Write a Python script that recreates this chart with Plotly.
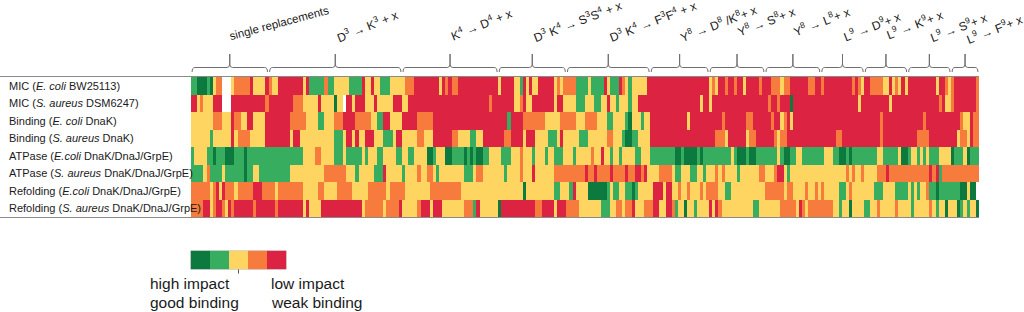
import plotly.graph_objects as go

# ---------------- data ----------------
row_labels = [
    "MIC (<i>E. coli</i> BW25113)",
    "MIC (<i>S. aureus</i> DSM6247)",
    "Binding (<i>E. coli</i> DnaK)",
    "Binding (<i>S. aureus</i> DnaK)",
    "ATPase (<i>E.coli</i> DnaK/DnaJ/GrpE)",
    "ATPase (<i>S. aureus</i> DnaK/DnaJ/GrpE)",
    "Refolding (<i>E.coli</i> DnaK/DnaJ/GrpE)",
    "Refolding (<i>S. aureus</i> DnaK/DnaJ/GrpE)",
]

# impact class per peptide: 1 = high impact/good binding ... 5 = low impact/weak binding, 0 = no data
mic_ecoli = [int(c) for c in (
    "22 111 2 1 3 44 000 3 44444 5 3333 5 4 33 55555555 3 5 22222 4 22 33333 2 "
    "222 5 33 5 33 222 33333 444 55555555 3 5 4 5 44 5555555555555 3 555 "
    "5 33 2 5 3 5 33 55555 3 4 3 4444 2222 3 2222 5 3 222 5 4 3 2 33333 55555555 "
    "555555555555 3 4 3 55 4 55 4 55 3 5555 4 555 444 3 44 555555 44 55 4 555 "
    "555555 4 5 4 3 55 4444 33 5 3 4 3 5 3 555555555 3 55 4 3 4 5555555 4"
) if c.isdigit()]
mic_saureus = [int(c) for c in (
    "55 3 4 333 555 000 55555555555 4 55555555 444 33333 5 3333 1 33 0 55 "
    "3 555 333 5 33333 555 33 5555555555 5555555555 555555 4 555555 "
    "5 33 4 5 33 5555555 3 55 3333 222 333 22 33 5 33 2 333 2 33 55555555555 "
    "555555555 3 55 3 555555555555555555 4 55 4 555 1 5555555555555 "
    "55555555 3 555555555 3 555555555555555 4 5 33 4 5555555 4"
) if c.isdigit()]
bind_ecoli = [int(c) for c in (
    "3333333 444 333 5 44 33 55 3333 55555555 44444 3333 22 333 444 555 "
    "5 44444 33 22 55 3333 55555 44444 555555555555 555555555555 2 "
    "5555 4444444 33333 44444 333 4444 333 22 3333 2 1 333 2 33 5555555 "
    "55555 3 5555555555 4 5555555 44 555555 4 55 3 4 5 3 5555555555555 "
    "555555555555555 4 5555555555555 4 55555555555 4 33 5 44"
) if c.isdigit()]
bind_saureus = [int(c) for c in (
    "333333 2 333333 5 3 4444 33333 55555555 3 55 33333333333 222 3 55 "
    "3 5 33 555 333 222 3 55 33333 44 333 555555 44 3333 22 33 5555555 44 "
    "5555 3 555 3333 222 3 5 33333 222 333333 44 333 2 11 22 3333 5555555 "
    "55555555555555 444 3 555555 3 44 555555 4 3 44 555555555555555 "
    "5 44 555555555555 4 55555555555 4444 555555555 3 44 3 5 44"
) if c.isdigit()]
atp_ecoli = [int(c) for c in (
    "2 3333 22 1 222 111 222 1 22 2222222222222222 3333 44 3333 222 3 22 "
    "222 3 2 333 22 3333 22 33 22 3333 11 2 333 11 2222 1 2 1 2 11 22 3333 222 "
    "333 4 333 2 333 2 33 222 333 2 33333 4 33 5 33 2 33 2 3333 22 333 2222222 "
    "2 11 2 1111 2 1 222222222 3 2 111 2 11 2222222 3 2 11 22 33 2222222 333 "
    "22 11 2 1 22222222 33 22222 3 11 2 33 2 3 2 3 222 3333 1 222 3 1 222"
) if c.isdigit()]
atp_saureus = [int(c) for c in (
    "2222 3 4 2222 3 222222 1 22 33 2222222222 33333333333 4444444 33 "
    "3 2 33333 222 5 33333 2 3333 4 33 44 3 2 33333333 222 3 44 3333333 2 3 "
    "333 4 333 5 333333 4444444444 5 44 5 4444 5 4444 5 44 55 4 5 3333 4444 "
    "3 22 333 22 33 2 333 4 3 4 3333 2 333333 44 333 4 55 3 2 33333333333333 "
    "3333 4 3 4 33 4 3333 444 5 4444444444444 5 4 5 2 444444444444"
) if c.isdigit()]
refold_ecoli = [int(c) for c in (
    "444444 3 4 5 3 5 444 3 44444 555 4444 3 44444444 33333 44 3333 44444 "
    "33333 444444 3 44444 33333333 4444444444 3333333333333333 "
    "3333 1 333333333 22 333 2 5 3333 111111 2 3 22 33 22 1 2 33333 555 3 55 "
    "33 4 33 4 333 4 3 4444 33 22 33333333333 444444 3 44 3333 4 33 4 3 4 333 "
    "33 22 3 4 3333333 222 3333 2222 3 2 3 2 33 4 22 1 2222222 11 3 1 1 0"
) if c.isdigit()]
refold_saureus = [int(c) for c in (
    "4444 55 3 4 55 4 3 5 4 555555 4 555555 4 55555555 3 5 3333 5555555555 "
    "555 3 444444 3 4444 5 33333 4 555 3 555 3333333 444 2 5 333333 1 555 "
    "55555555 44 5555 3 555 4444 3333333 222 33 44 3 44 5 333 444 55 33 55 "
    "4 2 33 1 33 2 3333 5 3 5 4 3333333333 22 3333333 44444 3 5 4 3 44444444 "
    "33 2 33 1 3333 22 33 4 33333 4 3333 2 33333 4 3 2 33 1 333 1 2 3 2 33 1"
) if c.isdigit()]

group_labels = [
    "single replacements",
    "D<sup>3</sup> → K<sup>3</sup> + x",
    "K<sup>4</sup> → D<sup>4</sup> + x",
    "D<sup>3</sup> K<sup>4</sup> → S<sup>3</sup>S<sup>4</sup> + x",
    "D<sup>3</sup> K<sup>4</sup> → F<sup>3</sup>F<sup>4</sup> + x",
    "Y<sup>8</sup> → D<sup>8</sup> /K<sup>8</sup>+ x",
    "Y<sup>8</sup> → S<sup>8</sup>+ x",
    "Y<sup>8</sup> → L<sup>8</sup>+ x",
    "L<sup>9</sup> → D<sup>9</sup>+ x",
    "L<sup>9</sup> → K<sup>9</sup>+ x",
    "L<sup>9</sup> → S<sup>9</sup>+ x",
    "L<sup>9</sup> → F<sup>9</sup>+ x",
]
group_sizes = [25, 43, 31, 22, 27, 19, 18, 18, 14, 14, 14, 9]
legend_levels = [1, 2, 3, 4, 5]

# ---------------- style ----------------
W, H = 1024, 312
colors = ["#0c7a3e", "#36ad5f", "#fdd560", "#f87b3e", "#dc2342"]
FONT = "Arial, 'Liberation Sans', sans-serif"
TXT = "#1a1a1a"

def PX(x):
    return x / W

def PY(y):
    return 1 - y / H

rows = [mic_ecoli, mic_saureus, bind_ecoli, bind_saureus,
        atp_ecoli, atp_saureus, refold_ecoli, refold_saureus]
N = sum(group_sizes)
z = []
for r in rows:
    r = (r + [r[-1]] * N)[:N]
    z.append([v if v > 0 else None for v in r])

cs = []
for i, c in enumerate(colors):
    cs.append([i / 5, c])
    cs.append([(i + 1) / 5, c])

fig = go.Figure()
fig.add_trace(go.Heatmap(
    z=z, x=list(range(N)), y=list(range(len(rows))),
    colorscale=cs, zmin=0.5, zmax=5.5, showscale=False,
    xaxis="x", yaxis="y", hoverinfo="skip",
))
fig.add_trace(go.Heatmap(
    z=[legend_levels], x=list(range(len(legend_levels))), y=[0],
    colorscale=cs, zmin=0.5, zmax=5.5, showscale=False,
    xaxis="x2", yaxis="y2", hoverinfo="skip",
))

x_left, x_right, y_top, y_bot = 191, 979, 77, 217
fig.update_layout(
    width=W, height=H, margin=dict(l=0, r=0, t=0, b=0),
    paper_bgcolor="white", plot_bgcolor="white", showlegend=False,
    xaxis=dict(domain=[PX(x_left), PX(x_right)], range=[-0.5, N - 0.5],
               visible=False, fixedrange=True),
    yaxis=dict(domain=[PY(y_bot), PY(y_top)], range=[len(rows) - 0.5, -0.5],
               visible=False, fixedrange=True),
    xaxis2=dict(domain=[PX(190.5), PX(286.5)], range=[-0.5, 4.5], visible=False,
                anchor="y2"),
    yaxis2=dict(domain=[PY(269.5), PY(250.5)], range=[-0.5, 0.5], visible=False,
                anchor="x2"),
)

shapes = []
annotations = []

# row labels
for i, lab in enumerate(row_labels):
    annotations.append(dict(
        x=PX(6.5), xref="paper", y=i, yref="y", text=lab, showarrow=False,
        xanchor="left", yanchor="middle", font=dict(family=FONT, size=11, color=TXT)))

# horizontal rules above and below the table
for yy in (y_top - 0.5, y_bot + 0.5):
    shapes.append(dict(type="line", xref="paper", yref="paper",
                       x0=0, x1=PX(x_right), y0=PY(yy), y1=PY(yy),
                       line=dict(color="#8a8a8a", width=1)))

# curly braces and group titles
yb, ym, yt = PY(72), PY(67.5), PY(54)
ym2 = PY(64)
label_bottom_px = [45, 48, 46, 48, 48, 47, 42, 42, 47, 45, 48, 49]
label_angle = [-15, -22, -22, -21, -21, -21, -21, -21, -21, -21, -21, -21]
label_size = [11.5, 12, 12, 12, 12, 12, 12, 12, 12, 12, 12, 12]
start = 0
for gi, (lab, n) in enumerate(zip(group_labels, group_sizes)):
    a = start - 0.5 + 0.35
    b = start + n - 0.5 - 0.35
    m = (a + b) / 2
    d = 0.9
    path = (f"M {a},{yb} Q {a},{ym} {a+d},{ym} L {m-d},{ym} Q {m},{ym} {m},{ym2} "
            f"L {m},{yt} L {m},{ym2} Q {m},{ym} {m+d},{ym} L {b-d},{ym} Q {b},{ym} {b},{yb}")
    shapes.append(dict(type="path", xref="x", yref="paper", path=path,
                       line=dict(color="#6e6e6e", width=1)))
    annotations.append(dict(
        x=m - 1.3, xref="x", y=PY(label_bottom_px[gi]), yref="paper", text=lab,
        showarrow=False, textangle=label_angle[gi], xanchor="left", yanchor="bottom",
        font=dict(family=FONT, size=label_size[gi], color=TXT)))
    start += n

# legend frame, tick and texts
shapes.append(dict(type="rect", xref="x2", yref="y2", x0=-0.5, x1=4.5, y0=-0.5, y1=0.5,
                   line=dict(color="#b5b5b5", width=1)))
shapes.append(dict(type="line", xref="x2", yref="paper", x0=2, x1=2,
                   y0=PY(269.5), y1=PY(273.5), line=dict(color="#555", width=1)))
for txt, xx, yy in [("high impact", 148, 283), ("good binding", 148, 302),
                    ("low impact", 269, 283), ("weak binding", 269, 302)]:
    annotations.append(dict(x=PX(xx), xref="paper", y=PY(yy), yref="paper", text=txt,
                            showarrow=False, xanchor="left", yanchor="middle",
                            font=dict(family=FONT, size=15.5, color=TXT)))

fig.update_layout(shapes=shapes, annotations=annotations)
fig.write_html("out.html", config={"displayModeBar": False},
               post_script="document.body.style.margin='0px';document.body.style.overflow='hidden';")
